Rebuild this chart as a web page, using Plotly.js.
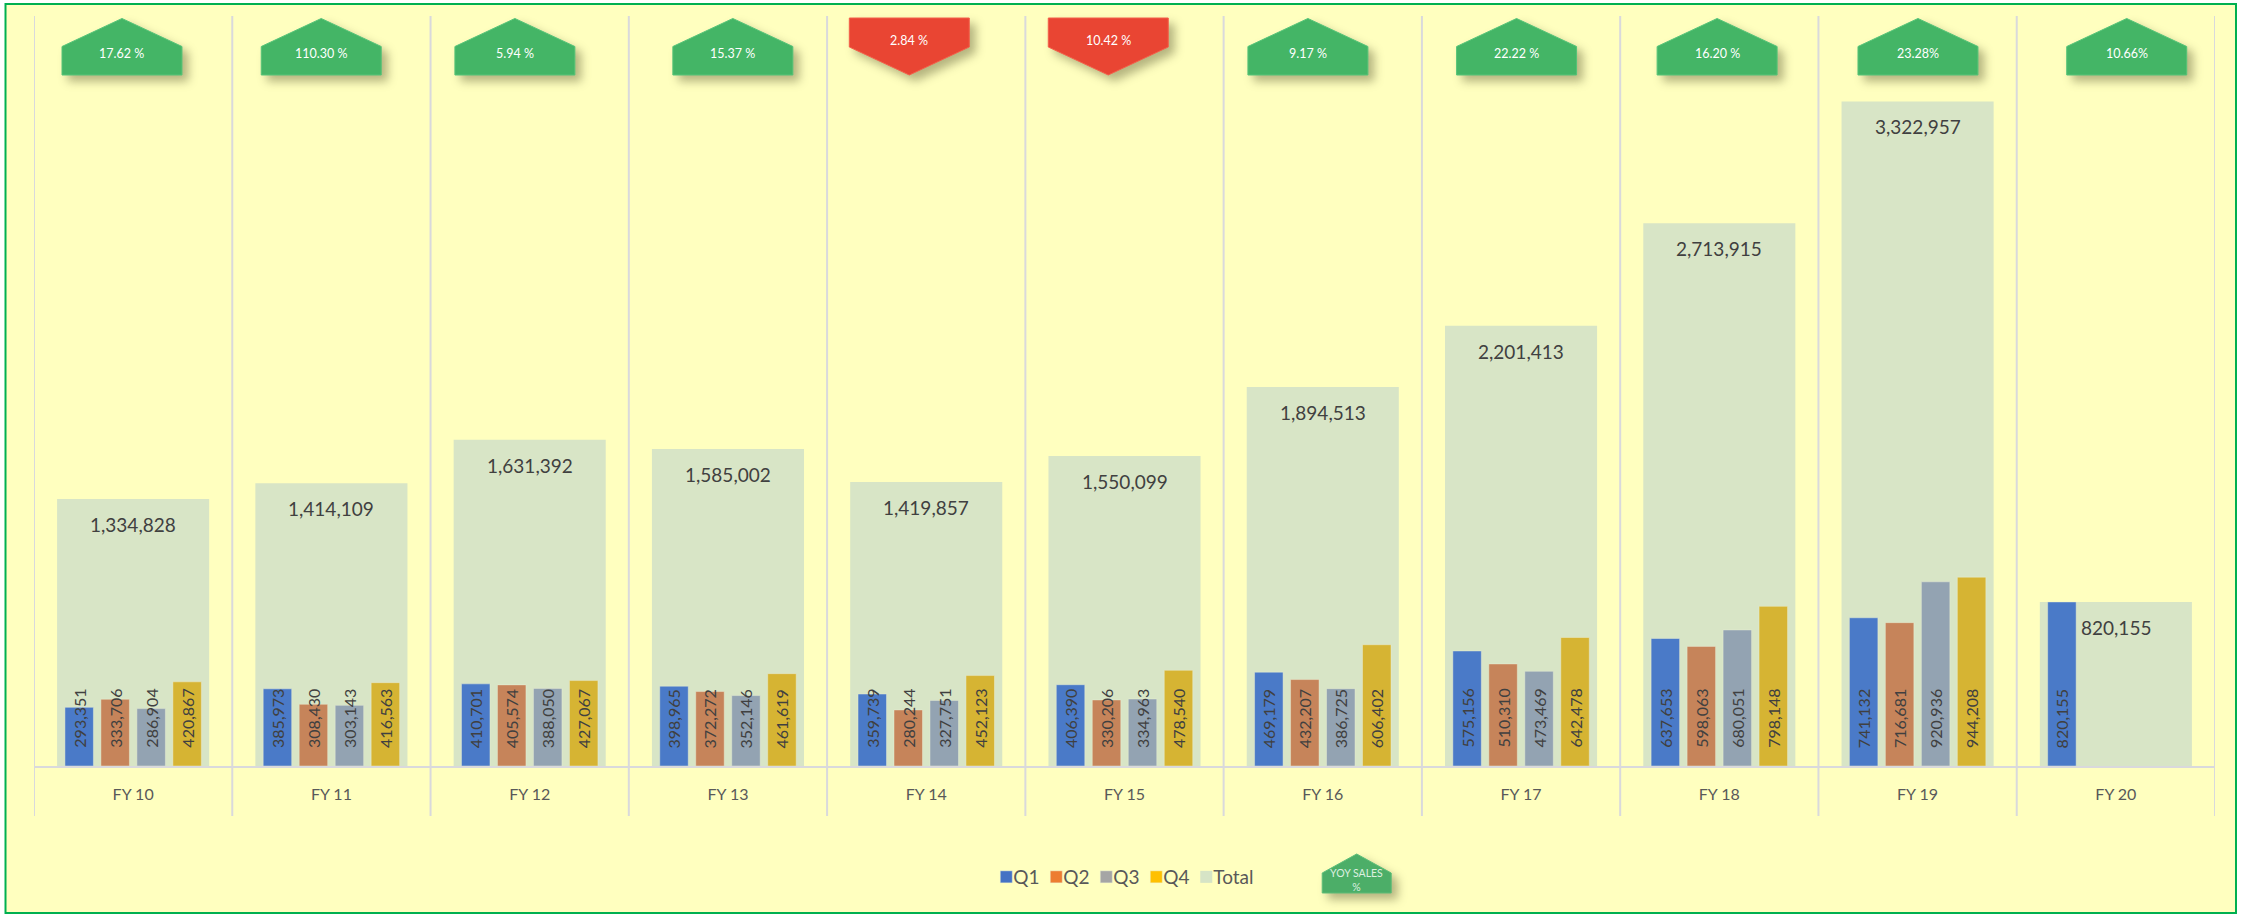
<!DOCTYPE html>
<html>
<head>
<meta charset="utf-8">
<script src="https://cdn.plot.ly/plotly-3.0.1.min.js"></script>
<style>html,body{margin:0;padding:0;background:#fff}</style>
</head>
<body>
<div id="chart" style="width:2241px;height:915px"></div>
<script>
const years = ['FY 10','FY 11','FY 12','FY 13','FY 14','FY 15','FY 16','FY 17','FY 18','FY 19','FY 20'];
const q1 = [293351,385973,410701,398965,359739,406390,469179,575156,637653,741132,820155];
const q2 = [333706,308430,405574,372272,280244,330206,432207,510310,598063,716681,null];
const q3 = [286904,303143,388050,352146,327751,334963,386725,473469,680051,920936,null];
const q4 = [420867,416563,427067,461619,452123,478540,606402,642478,798148,944208,null];
const total = [1334828,1414109,1631392,1585002,1419857,1550099,1894513,2201413,2713915,3322957,820155];
const yoyLabels = ['17.62 %','110.30 %','5.94 %','15.37 %','2.84 %','10.42 %','9.17 %','22.22 %','16.20 %','23.28%','10.66%'];
const yoyUp = [true,true,true,true,false,false,true,true,true,true,true];
const yoyCentersPx = [121.5,320.8,514.5,732.5,909,1108,1307.7,1516.4,1717,1917.9,2126.7];
const seriesNames = ['Q1','Q2','Q3','Q4'];
const barColors = ['#4A7AC8','#C6845A','#93A3B2','#D6B433'];
const legendColors = ['#4472C4','#ED7D31','#A5A5A5','#FFC000','#D6E4C6'];
const totalColor = '#D8E5C6';

const L = 33.5, R = 2215, T = 16, B = 766, W = R - L, H = B - T;
const xp = px => (px - L) / W, yp = py => (B - py) / H;
const poly = pts => 'M' + pts.map(p => xp(p[0]).toFixed(5) + ',' + yp(p[1]).toFixed(5)).join(' L') + ' Z';

const barW = 0.1437, pitch = 0.1815, off0 = -0.344;
const Q = [q1, q2, q3, q4];

const traces = [{
  type: 'bar', name: 'Total', x: years, y: total, width: 0.767, offset: -0.3835,
  marker: {color: totalColor}, legendrank: 5, hoverinfo: 'x+y+name'
}];
Q.forEach((vals, i) => traces.push({
  type: 'bar', name: seriesNames[i], x: years, y: vals, width: barW, offset: off0 + i * pitch,
  marker: {color: barColors[i], line: {color: 'rgba(235,240,215,0.45)', width: 1}},
  legendrank: i + 1, hoverinfo: 'x+y+name'
}));

const fmt = v => v.toLocaleString('en-US');
const annotations = [];
Q.forEach((vals, i) => vals.forEach((v, c) => {
  if (v === null) return;
  annotations.push({x: c + off0 + i * pitch + barW / 2, y: 0, xref: 'x', yref: 'y', yshift: 16,
    text: fmt(v), textangle: -90, showarrow: false, yanchor: 'bottom', xanchor: 'center',
    font: {family: 'Lato', size: 16, color: '#404040'}});
}));
total.forEach((v, c) => annotations.push({x: c, y: v, xref: 'x', yref: 'y', yshift: -12,
  text: fmt(v), showarrow: false, yanchor: 'top', xanchor: 'center',
  font: {family: 'Lato', size: 19, color: '#404040'}}));

const shapes = [{type: 'rect', xref: 'paper', yref: 'paper', layer: 'below',
  x0: xp(5), x1: xp(2236), y0: yp(913), y1: yp(4),
  fillcolor: '#FFFFBF', line: {color: '#00B050', width: 2}}];
for (let i = 0; i <= years.length; i++) {
  shapes.push({type: 'line', xref: 'x', yref: 'paper', layer: 'below',
    x0: i - 0.5, x1: i - 0.5, y0: yp(816), y1: yp(16), line: {color: '#D9D9DC', width: 2}});
}
yoyCentersPx.forEach((c, i) => {
  const up = yoyUp[i];
  const pts = up
    ? [[c, 18.5], [c + 60, 46.5], [c + 60, 75], [c - 60, 75], [c - 60, 46.5]]
    : [[c - 60, 18], [c + 60, 18], [c + 60, 47], [c, 75], [c - 60, 47]];
  shapes.push({type: 'path', xref: 'paper', yref: 'paper', layer: 'above', path: poly(pts),
    fillcolor: up ? '#44B566' : '#E94533', line: {color: up ? '#56C478' : '#F4604A', width: 1}});
  annotations.push({x: xp(c), y: yp(up ? 54 : 40), xref: 'paper', yref: 'paper', text: yoyLabels[i],
    showarrow: false, xanchor: 'center', yanchor: 'middle',
    font: {family: 'Lato', size: 12.5, color: '#FFFFFF'}});
});
const kc = 1356.5;
shapes.push({type: 'path', xref: 'paper', yref: 'paper', layer: 'above',
  path: poly([[kc, 854], [kc + 34.5, 873], [kc + 34.5, 893], [kc - 34.5, 893], [kc - 34.5, 873]]),
  fillcolor: '#4CAE68', line: {color: '#5CBE78', width: 1}});
annotations.push({x: xp(kc), y: yp(880), xref: 'paper', yref: 'paper', text: 'YOY SALES<br>%',
  showarrow: false, xanchor: 'center', yanchor: 'middle',
  font: {family: 'Lato', size: 10.5, color: '#DDF0E0'}});

const layout = {
  width: 2241, height: 915, margin: {l: L, r: 2241 - R, t: T, b: 915 - B, pad: 0},
  paper_bgcolor: '#FFFFFF', plot_bgcolor: 'rgba(0,0,0,0)', barmode: 'overlay',
  font: {family: 'Lato', color: '#595959'},
  xaxis: {type: 'category', categoryorder: 'array', categoryarray: years, range: [-0.5, 10.5],
    showgrid: false, showline: true, linecolor: '#D9D9DC', linewidth: 2, ticks: '', ticklabelstandoff: 13,
    tickfont: {family: 'Lato', size: 16, color: '#595959'}, fixedrange: true},
  yaxis: {range: [0, 3750000], visible: false, fixedrange: true},
  legend: {orientation: 'h', x: xp(1001), y: yp(858), xanchor: 'left', yanchor: 'top',
    bgcolor: 'rgba(0,0,0,0)', traceorder: 'normal', indentation: -15, entrywidth: 20, entrywidthmode: 'pixels',
    font: {family: 'Lato', size: 19, color: '#595959'}},
  shapes, annotations, showlegend: true
};

Plotly.newPlot('chart', traces, layout, {displayModeBar: false, responsive: false}).then(gd => {
  const sb = gd.querySelector('.legend .scrollbox');
  if (sb) { sb.removeAttribute('clip-path'); sb.style.clipPath = 'none'; }
  gd.querySelectorAll('.legend .traces').forEach((g, i) => {
    const sw = g.querySelector('.legendpoints path');
    if (sw) sw.style.fill = legendColors[i];
    const t = g.querySelector('.legendtext');
    if (t) t.setAttribute('x', parseFloat(t.getAttribute('x')) - 13);
  });
  gd.querySelectorAll('.layer-above .shapelayer path').forEach(p => {
    p.style.filter = 'drop-shadow(6px 6px 5px rgba(90,90,50,0.45))';
  });
});
</script>
</body>
</html>
